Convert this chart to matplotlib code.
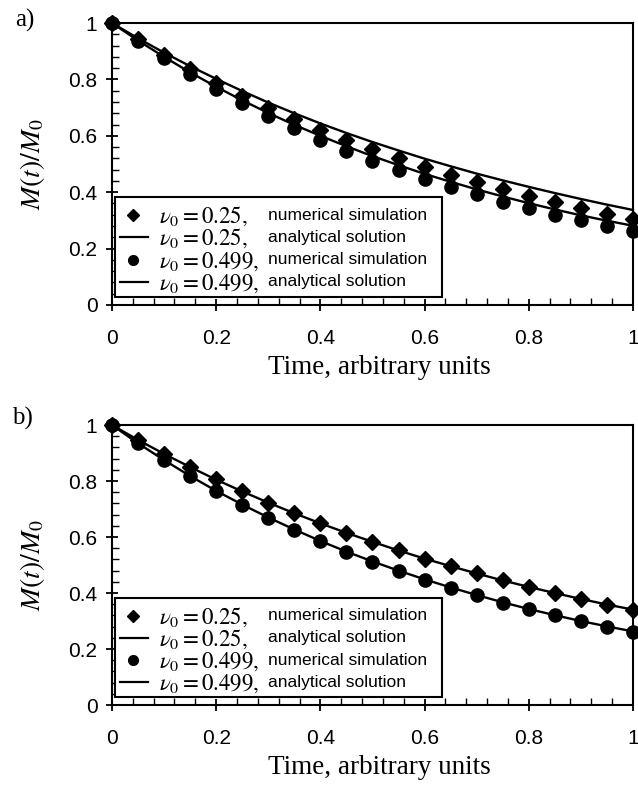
import matplotlib
matplotlib.use("Agg")
import matplotlib.pyplot as plt
from matplotlib.patches import Rectangle
from matplotlib.ticker import MultipleLocator

plt.rcParams['mathtext.fontset'] = 'stix'
plt.rcParams['font.family'] = ['Liberation Sans', 'DejaVu Sans']

# time points (arbitrary units)
t = [0.0, 0.05, 0.1, 0.15, 0.2, 0.25, 0.3, 0.35, 0.4, 0.45, 0.5,
     0.55, 0.6, 0.65, 0.7, 0.75, 0.8, 0.85, 0.9, 0.95, 1.0]

# panel a)
a_num_025 = [1.0, 0.942, 0.888, 0.836, 0.788, 0.743, 0.700, 0.660, 0.622, 0.586, 0.552,
             0.520, 0.490, 0.462, 0.435, 0.410, 0.386, 0.364, 0.343, 0.324, 0.306]
a_ana_025 = [1.0, 0.946, 0.895, 0.847, 0.802, 0.759, 0.718, 0.680, 0.644, 0.610, 0.578,
             0.548, 0.519, 0.492, 0.466, 0.442, 0.419, 0.397, 0.376, 0.356, 0.337]
a_num_0499 = [1.0, 0.935, 0.875, 0.818, 0.765, 0.716, 0.669, 0.626, 0.585, 0.547, 0.512,
              0.479, 0.448, 0.419, 0.392, 0.366, 0.343, 0.320, 0.300, 0.280, 0.263]
a_ana_0499 = [1.0, 0.938, 0.880, 0.825, 0.774, 0.726, 0.681, 0.639, 0.600, 0.563, 0.528,
              0.496, 0.465, 0.437, 0.410, 0.385, 0.361, 0.339, 0.318, 0.299, 0.281]

# panel b)
b_num_025 = [1.0, 0.947, 0.897, 0.850, 0.806, 0.763, 0.723, 0.685, 0.649, 0.615, 0.583,
             0.552, 0.523, 0.496, 0.470, 0.445, 0.421, 0.399, 0.378, 0.358, 0.340]
b_ana_025 = [1.0, 0.947, 0.897, 0.850, 0.805, 0.763, 0.723, 0.685, 0.649, 0.615, 0.583,
             0.552, 0.523, 0.496, 0.470, 0.445, 0.422, 0.400, 0.379, 0.359, 0.341]
b_num_0499 = [1.0, 0.935, 0.874, 0.818, 0.765, 0.715, 0.669, 0.626, 0.585, 0.547, 0.512,
              0.479, 0.448, 0.419, 0.392, 0.366, 0.342, 0.320, 0.299, 0.280, 0.262]
b_ana_0499 = [1.0, 0.935, 0.875, 0.818, 0.765, 0.716, 0.670, 0.627, 0.586, 0.548, 0.513,
              0.480, 0.449, 0.420, 0.393, 0.367, 0.343, 0.321, 0.300, 0.281, 0.263]

key_math = [r'$\nu_0 = 0.25,$', r'$\nu_0 = 0.25,$', r'$\nu_0 = 0.499,$', r'$\nu_0 = 0.499,$']
key_text = ['numerical simulation', 'analytical solution',
            'numerical simulation', 'analytical solution']
key_kind = ['D', '-', 'o', '-']


def draw_key(ax):
    ax.add_patch(Rectangle((0.006, 0.028), 0.628, 0.355, transform=ax.transAxes,
                           facecolor='white', edgecolor='k', lw=1.5, zorder=5,
                           clip_on=False))
    rows = [0.319, 0.241, 0.160, 0.082]
    for y, m, txt, kind in zip(rows, key_math, key_text, key_kind):
        if kind == '-':
            ax.plot([0.015, 0.069], [y, y], color='k', lw=1.6,
                    transform=ax.transAxes, zorder=6, clip_on=False)
        else:
            ax.plot([0.04], [y], marker=kind, color='k',
                    ms=7 if kind == 'o' else 6, ls='none',
                    transform=ax.transAxes, zorder=6, clip_on=False)
        ax.text(0.090, y - 0.005, m, transform=ax.transAxes, fontsize=16.5,
                va='center', ha='left', zorder=6)
        ax.text(0.300, y, txt, transform=ax.transAxes, fontsize=12.5,
                va='center', ha='left', zorder=6)


def draw_panel(ax, num025, ana025, num0499, ana0499):
    ax.plot(t, ana025, color='k', lw=1.7, zorder=3, clip_on=False)
    ax.plot(t, ana0499, color='k', lw=1.7, zorder=3, clip_on=False)
    ax.plot(t, num025, 'D', color='k', ms=8, zorder=4, clip_on=False)
    ax.plot(t, num0499, 'o', color='k', ms=9.5, zorder=4, clip_on=False)

    ax.set_xlim(0, 1)
    ax.set_ylim(0, 1)
    ax.xaxis.set_minor_locator(MultipleLocator(0.04))
    ax.yaxis.set_minor_locator(MultipleLocator(0.04))
    ax.set_xticks([0, 0.2, 0.4, 0.6, 0.8, 1.0])
    ax.set_xticklabels(['0', '0.2', '0.4', '0.6', '0.8', '1'])
    ax.set_yticks([0, 0.2, 0.4, 0.6, 0.8, 1.0])
    ax.set_yticklabels(['0', '0.2', '0.4', '0.6', '0.8', '1'])
    ax.tick_params(which='major', direction='inout', length=9, width=1.3,
                   labelsize=15)
    ax.tick_params(which='minor', direction='in', length=5, width=1.0)
    ax.tick_params(axis='x', which='major', pad=13)
    ax.tick_params(axis='y', which='major', pad=6)
    for s in ax.spines.values():
        s.set_linewidth(1.5)

    ax.set_xlabel('Time, arbitrary units', family='Liberation Serif', fontsize=19.5)
    ax.xaxis.set_label_coords(0.514, -0.223)
    ax.xaxis.label.set_va('center')
    ax.set_ylabel(r'$M(t)/M_0$', fontsize=20)
    ax.yaxis.set_label_coords(-0.152, 0.5)
    ax.yaxis.label.set_va('center')
    draw_key(ax)


fig = plt.figure(figsize=(6.38, 7.92), dpi=100)
ax_a = fig.add_axes([0.1755, 0.6149, 0.8166, 0.356])
ax_b = fig.add_axes([0.1755, 0.1098, 0.8166, 0.3535])

draw_panel(ax_a, a_num_025, a_ana_025, a_num_0499, a_ana_0499)
draw_panel(ax_b, b_num_025, b_ana_025, b_num_0499, b_ana_0499)

fig.text(25 / 638, 1 - 20 / 792, 'a)', family='Liberation Serif', fontsize=18,
         ha='center', va='center')
fig.text(22 / 638, 1 - 418 / 792, 'b)', family='Liberation Serif', fontsize=18,
         ha='center', va='center')

fig.savefig('out.png', dpi=100)
